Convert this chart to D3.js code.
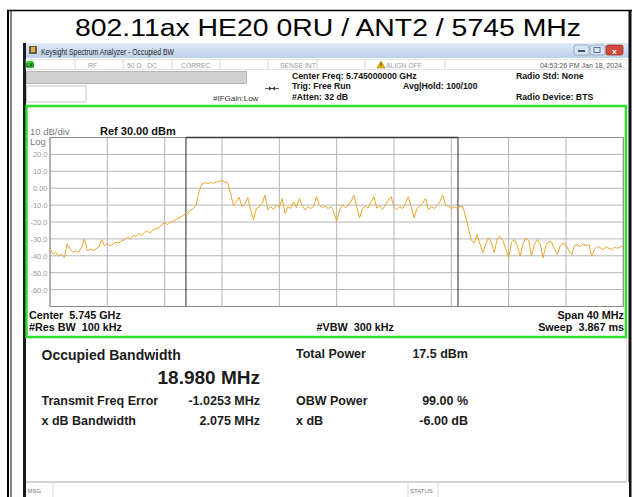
<!DOCTYPE html>
<html>
<head>
<meta charset="utf-8">
<script src="https://cdn.jsdelivr.net/npm/d3@7"></script>
<style>
  body { margin: 0; background: #fff; }
  svg { display: block; font-family: "Liberation Sans", Arial, sans-serif; }
</style>
</head>
<body>
<div id="wrapper"></div>
<script>
/* global d3 */

// chart values
const chartTitle = "802.11ax HE20 0RU / ANT2 / 5745 MHz"
const centerMHz = 5745
const spanMHz = 40
const refLevel = 30
const dbPerDiv = 10
const yTickValues = [20, 10, 0, -10, -20, -30, -40, -50, -60]
const yTickLabels = ["20.0", "10.0", "0.00", "-10.0", "-20.0", "-30.0", "-40.0", "-50.0", "-60.0"]
const obwMHz = 18.980
const freqErrorMHz = -1.0253

// trace, 201 sweep points across the span (dBm)
const traceDbm = [
  -35, -39, -38, -40, -39, -41, -33, -36, -38, -37,
  -38, -35, -30, -37, -36, -37, -36, -35, -30.5, -34,
  -33, -34, -33, -32, -32.5, -31, -30.5, -29, -30, -28,
  -28.5, -27, -28, -26, -25.5, -26.5, -24.5, -24, -23.5, -21.5,
  -20.6, -21.5, -20, -19.6, -18.5, -17.5, -16.7, -15.5, -15, -13,
  -12, -10, -2,
  2.5, 3.2, 2.8, 3.3, 3.0, 3.6, 3.9, 4.6, 3.8, 3.2,
  -3, -10.5,
  -8, -5.5, -11, -9, -5.5, -13, -18.5, -12, -11, -9,
  -4, -12.8, -11, -12.5, -9.8, -11.5, -6, -15, -11, -12,
  -8, -11.5, -6, -10.5, -12.8, -11, -12, -10.8, -5, -9.8,
  -11.5, -10.5, -12, -11, -14, -19.6, -13, -9.8, -11.5, -10.5,
  -8, -4, -11, -17.6, -12, -10.5, -11.8, -8, -5, -11.8,
  -10.5, -12.5, -10, -7, -5, -11, -12.8, -11, -12, -9,
  -5, -11, -17.6, -12, -10.5, -9, -6, -12.8, -11, -12,
  -10.5, -8, -4, -10, -10.8, -12, -11, -11.8, -11, -10.8,
  -17, -24, -31, -32.4, -27.5, -33, -38.2, -33, -29.4, -32,
  -38.2, -30, -28.5, -31, -36, -41.2, -32, -30.4, -34, -40.2,
  -33, -29.4, -31, -40.2, -33, -30.4, -33, -41.2, -34, -31.4,
  -32, -36, -39.2, -34, -32.4, -33.5, -37, -39.2, -34, -33.4,
  -34.5, -33, -34, -33.4, -40.2, -36, -34.5, -35.3, -36.5, -34.5,
  -35.5, -36.3, -35, -35.5, -34.6, -34.4
]

const statusCells = ["RF", "50 \u03a9   DC", "CORREC", "SENSE:INT", "ALIGN OFF"]
const headerLeft = ["Center Freq: 5.745000000 GHz", "Trig: Free Run", "#Atten: 32 dB"]
const headerRight = ["Radio Std: None", "", "Radio Device: BTS"]
const footerLeft = ["Center  5.745 GHz", "#Res BW  100 kHz"]
const footerRight = ["Span 40 MHz", "Sweep  3.867 ms"]
const summaryRows = [
  ["Transmit Freq Error", "-1.0253 MHz", "OBW Power", "99.00 %"],
  ["x dB Bandwidth", "2.075 MHz", "x dB", "-6.00 dB"]
]

// dimensions
const width = 632
const height = 497
const plot = { left: 50, right: 623.3, top: 137.5, bottom: 306.5 }

const svg = d3.select("#wrapper")
  .append("svg")
    .attr("width", width)
    .attr("height", height)

const defs = svg.append("defs")
const tbGrad = defs.append("linearGradient").attr("id", "tb").attr("x1", 0).attr("x2", 0).attr("y1", 0).attr("y2", 1)
tbGrad.append("stop").attr("offset", "0%").attr("stop-color", "#dfe9f6")
tbGrad.append("stop").attr("offset", "100%").attr("stop-color", "#bcd0ea")
defs.append("clipPath").attr("id", "plotClip")
  .append("rect")
    .attr("x", plot.left).attr("y", plot.top)
    .attr("width", plot.right - plot.left).attr("height", plot.bottom - plot.top)

// outer frame + title
svg.append("line").attr("x1", 7).attr("x2", 632).attr("y1", 10.5).attr("y2", 10.5)
  .attr("stroke", "#000").attr("stroke-width", 1.5)
svg.append("line").attr("x1", 8).attr("x2", 8).attr("y1", 10).attr("y2", height)
  .attr("stroke", "#000").attr("stroke-width", 2)
svg.append("line").attr("x1", 11).attr("x2", 11).attr("y1", 10).attr("y2", height)
  .attr("stroke", "#000").attr("stroke-width", 1)

svg.append("text")
    .attr("x", 328).attr("y", 36)
    .attr("text-anchor", "middle")
    .attr("font-size", 23)
    .attr("textLength", 506)
    .attr("lengthAdjust", "spacingAndGlyphs")
    .attr("fill", "#000")
    .text(chartTitle)

// window
svg.append("rect").attr("x", 23).attr("y", 43).attr("width", 608).attr("height", 460)
  .attr("fill", "#fff")
svg.append("rect").attr("x", 23).attr("y", 43).attr("width", 608).attr("height", 15)
  .attr("fill", "url(#tb)")
svg.append("line").attr("x1", 24.5).attr("x2", 24.5).attr("y1", 43).attr("y2", height)
  .attr("stroke", "#1a1a1a").attr("stroke-width", 3)
svg.append("line").attr("x1", 630).attr("x2", 630).attr("y1", 10).attr("y2", height)
  .attr("stroke", "#111").attr("stroke-width", 3)

// title bar
svg.append("rect").attr("x", 29).attr("y", 46).attr("width", 8).attr("height", 8).attr("fill", "#6b5a3a")
svg.append("rect").attr("x", 31).attr("y", 47).attr("width", 4).attr("height", 5).attr("fill", "#d9b04a")
svg.append("text")
    .attr("x", 41).attr("y", 54.5)
    .attr("font-size", 8.3)
    .attr("textLength", 133)
    .attr("lengthAdjust", "spacingAndGlyphs")
    .attr("fill", "#1e1e1e")
    .text("Keysight Spectrum Analyzer - Occupied BW")

const buttons = [
  { x: 574, w: 15, fill: "#d6e3f3", stroke: "#7c97bb" },
  { x: 590, w: 15, fill: "#d6e3f3", stroke: "#7c97bb" },
  { x: 606, w: 17, fill: "#d1493c", stroke: "#8e2a22" }
]
svg.selectAll(".wbtn").data(buttons).join("rect")
    .attr("class", "wbtn")
    .attr("x", d => d.x).attr("y", 45).attr("width", d => d.w).attr("height", 10).attr("rx", 2)
    .attr("fill", d => d.fill).attr("stroke", d => d.stroke).attr("stroke-width", 0.7)
svg.append("rect").attr("x", 578).attr("y", 50).attr("width", 7).attr("height", 2).attr("fill", "#3a5377")
svg.append("rect").attr("x", 594).attr("y", 47.5).attr("width", 6).attr("height", 5).attr("fill", "none").attr("stroke", "#3a5377").attr("stroke-width", 0.8)
svg.append("text").attr("x", 614.5).attr("y", 53.5).attr("text-anchor", "middle").attr("font-size", 8)
    .attr("font-weight", "bold").attr("fill", "#fff").text("x")

// status row
svg.append("rect").attr("x", 26).attr("y", 59.5).attr("width", 600).attr("height", 10)
  .attr("fill", "#fff").attr("stroke", "#d0d0d0").attr("stroke-width", 0.6)
svg.append("rect").attr("x", 26.5).attr("y", 61).attr("width", 7).attr("height", 7).attr("fill", "#27d327")
svg.append("text").attr("x", 30).attr("y", 67).attr("text-anchor", "middle").attr("font-size", 5)
    .attr("font-weight", "bold").attr("fill", "#103010").text("LXI")
const dividerX = [75, 123, 172, 220, 268, 317, 365, 445]
svg.selectAll(".sdiv").data(dividerX).join("line")
    .attr("class", "sdiv")
    .attr("x1", d => d).attr("x2", d => d).attr("y1", 59.5).attr("y2", 69.5)
    .attr("stroke", "#c8c8c8").attr("stroke-width", 0.8)
const statusX = [88, 127, 181, 280, 386]
svg.selectAll(".stxt").data(statusCells).join("text")
    .attr("class", "stxt")
    .attr("x", (d, i) => statusX[i]).attr("y", 67.5)
    .attr("font-size", 6.8).attr("fill", "#9a9a9a")
    .attr("xml:space", "preserve")
    .text(d => d)
svg.append("path").attr("d", "M377,68 L381,61 L385,68 Z").attr("fill", "#f2c200").attr("stroke", "#7a6100").attr("stroke-width", 0.5)
svg.append("text").attr("x", 381).attr("y", 67.4).attr("text-anchor", "middle").attr("font-size", 5.5)
    .attr("font-weight", "bold").attr("fill", "#000").text("!")
svg.append("text").attr("x", 622).attr("y", 67.5).attr("text-anchor", "end")
    .attr("font-size", 7).attr("fill", "#555")
    .text("04:53:26 PM Jan 18, 2024")

// header area
svg.append("rect").attr("x", 26.5).attr("y", 71.5).attr("width", 220).attr("height", 12)
  .attr("fill", "#d0d0d0").attr("stroke", "#a8a8a8").attr("stroke-width", 0.8)
svg.append("rect").attr("x", 26.5).attr("y", 86).attr("width", 59.5).attr("height", 16)
  .attr("fill", "#fff").attr("stroke", "#b8b8b8").attr("stroke-width", 0.8)
svg.append("text").attr("x", 213).attr("y", 100.5).attr("font-size", 8).attr("fill", "#333").text("#IFGain:Low")
svg.append("line").attr("x1", 265).attr("x2", 279).attr("y1", 88.5).attr("y2", 88.5).attr("stroke", "#333").attr("stroke-width", 0.8)
svg.append("path").attr("d", "M269,86.5 L272,88.5 L269,90.5 Z M275,86.5 L272,88.5 L275,90.5 Z").attr("fill", "#333")

svg.selectAll(".hl").data(headerLeft).join("text")
    .attr("class", "hl")
    .attr("x", 292).attr("y", (d, i) => 79 + i * 10.3)
    .attr("font-size", 8.7).attr("font-weight", "bold").attr("fill", "#111")
    .text(d => d)
svg.append("text").attr("x", 403).attr("y", 89.3).attr("font-size", 8.7).attr("font-weight", "bold")
    .attr("fill", "#111").text("Avg|Hold: 100/100")
svg.selectAll(".hr").data(headerRight).join("text")
    .attr("class", "hr")
    .attr("x", 516).attr("y", (d, i) => 79 + i * 10.3)
    .attr("font-size", 8.7).attr("font-weight", "bold").attr("fill", "#111")
    .text(d => d)

// green frame
svg.append("rect").attr("x", 26.5).attr("y", 106).attr("width", 599.5).attr("height", 231)
  .attr("fill", "#fff").attr("stroke", "#2ee02e").attr("stroke-width", 2.5)

// scales
const startMHz = centerMHz - spanMHz / 2
const stopMHz = centerMHz + spanMHz / 2
const freqAccessor = (d, i) => startMHz + i * spanMHz / (traceDbm.length - 1)

const xScale = d3.scaleLinear()
  .domain([startMHz, stopMHz])
  .range([plot.left, plot.right])
const yScale = d3.scaleLinear()
  .domain([refLevel - 10 * dbPerDiv, refLevel])
  .range([plot.bottom, plot.top])

// grid
const bounds = svg.append("g")
bounds.append("rect")
    .attr("x", plot.left).attr("y", plot.top)
    .attr("width", plot.right - plot.left).attr("height", plot.bottom - plot.top)
    .attr("fill", "#fff")
bounds.selectAll(".vgrid").data(d3.range(startMHz, stopMHz + 0.1, spanMHz / 10)).join("line")
    .attr("class", "vgrid")
    .attr("x1", d => xScale(d)).attr("x2", d => xScale(d))
    .attr("y1", plot.top).attr("y2", plot.bottom)
    .attr("stroke", "#b4b4b4").attr("stroke-width", 1)
bounds.selectAll(".hgrid").data(d3.range(refLevel - 10 * dbPerDiv, refLevel + 1, dbPerDiv)).join("line")
    .attr("class", "hgrid")
    .attr("x1", plot.left).attr("x2", plot.right)
    .attr("y1", d => yScale(d)).attr("y2", d => yScale(d))
    .attr("stroke", "#b4b4b4").attr("stroke-width", 1)
bounds.append("rect")
    .attr("x", plot.left).attr("y", plot.top)
    .attr("width", plot.right - plot.left).attr("height", plot.bottom - plot.top)
    .attr("fill", "none").attr("stroke", "#888").attr("stroke-width", 1)

// y axis labels
const yAxis = d3.axisLeft(yScale)
  .tickValues(yTickValues)
  .tickFormat((d, i) => yTickLabels[i])
  .tickSize(0)
  .tickPadding(2.5)
const yAxisGroup = bounds.append("g")
    .attr("transform", `translate(${plot.left}, 0)`)
    .call(yAxis)
yAxisGroup.select(".domain").remove()
yAxisGroup.selectAll("text")
    .attr("font-family", "Liberation Sans, Arial, sans-serif")
    .attr("font-size", 7.5)
    .attr("fill", "#9a9a9a")

// OBW markers
const obwLeft = centerMHz + freqErrorMHz - obwMHz / 2
const obwRight = centerMHz + freqErrorMHz + obwMHz / 2
bounds.selectAll(".obw").data([obwLeft, obwRight]).join("line")
    .attr("class", "obw")
    .attr("x1", d => xScale(d)).attr("x2", d => xScale(d))
    .attr("y1", plot.top).attr("y2", plot.bottom)
    .attr("stroke", "#2a2a2a").attr("stroke-width", 1)
bounds.append("line")
    .attr("x1", xScale(obwLeft)).attr("x2", xScale(obwRight))
    .attr("y1", plot.top).attr("y2", plot.top)
    .attr("stroke", "#3a3a3a").attr("stroke-width", 1.6)

// trace
const lineGenerator = d3.line()
  .x((d, i) => xScale(freqAccessor(d, i)))
  .y(d => yScale(d))
bounds.append("path")
    .datum(traceDbm)
    .attr("clip-path", "url(#plotClip)")
    .attr("d", lineGenerator)
    .attr("fill", "none")
    .attr("stroke", "#eba52b")
    .attr("stroke-width", 1)
    .attr("stroke-linejoin", "round")

// plot labels
svg.append("text").attr("x", 30).attr("y", 135).attr("font-size", 9.5).attr("fill", "#7a7a7a").text("10 dB/div")
svg.append("text").attr("x", 30).attr("y", 144.5).attr("font-size", 9.5).attr("fill", "#7a7a7a").text("Log")
svg.append("text").attr("x", 100).attr("y", 135).attr("font-size", 11).attr("font-weight", "bold")
    .attr("fill", "#111").text(`Ref ${refLevel.toFixed(2)} dBm`)

svg.selectAll(".fl").data(footerLeft).join("text")
    .attr("class", "fl")
    .attr("x", 29).attr("y", (d, i) => 318.5 + i * 12.2)
    .attr("font-size", 10.8).attr("font-weight", "bold").attr("fill", "#111")
    .attr("xml:space", "preserve")
    .text(d => d)
svg.selectAll(".fr").data(footerRight).join("text")
    .attr("class", "fr")
    .attr("x", 624).attr("y", (d, i) => 318.5 + i * 12.2)
    .attr("text-anchor", "end")
    .attr("font-size", 10.8).attr("font-weight", "bold").attr("fill", "#111")
    .attr("xml:space", "preserve")
    .text(d => d)
svg.append("text").attr("x", 316.5).attr("y", 330.7).attr("font-size", 10.8).attr("font-weight", "bold")
    .attr("fill", "#111").attr("xml:space", "preserve").text("#VBW  300 kHz")

// measurement panel
svg.append("text").attr("x", 41.5).attr("y", 360).attr("font-size", 14).attr("font-weight", "bold")
    .attr("fill", "#1c1c1c").text("Occupied Bandwidth")
svg.append("text").attr("x", 260).attr("y", 383.5).attr("text-anchor", "end").attr("font-size", 19)
    .attr("font-weight", "bold").attr("fill", "#1c1c1c").text(`${obwMHz.toFixed(3)} MHz`)
svg.append("text").attr("x", 296).attr("y", 358).attr("font-size", 12.5).attr("font-weight", "bold")
    .attr("fill", "#1c1c1c").text("Total Power")
svg.append("text").attr("x", 468).attr("y", 358).attr("text-anchor", "end").attr("font-size", 12.5)
    .attr("font-weight", "bold").attr("fill", "#1c1c1c").text("17.5 dBm")

const rowY = [405, 424.5]
const colX = [41.5, 260, 296, 468]
const colAnchor = ["start", "end", "start", "end"]
summaryRows.forEach((row, r) => {
  svg.selectAll(`.row${r}`).data(row).join("text")
      .attr("class", `row${r}`)
      .attr("x", (d, i) => colX[i]).attr("y", rowY[r])
      .attr("text-anchor", (d, i) => colAnchor[i])
      .attr("font-size", 12.5).attr("font-weight", "bold").attr("fill", "#1c1c1c")
      .text(d => d)
})

// bottom status bar
svg.append("rect").attr("x", 26).attr("y", 482).attr("width", 603).attr("height", 16).attr("fill", "#fff")
svg.append("line").attr("x1", 26).attr("x2", 627).attr("y1", 482).attr("y2", 482)
  .attr("stroke", "#c4c4c4").attr("stroke-width", 1.5)
svg.append("line").attr("x1", 626.5).attr("x2", 626.5).attr("y1", 338).attr("y2", 482)
  .attr("stroke", "#d0d0d0").attr("stroke-width", 0.8)
svg.selectAll(".bdiv").data([53, 408, 438]).join("line")
    .attr("class", "bdiv")
    .attr("x1", d => d).attr("x2", d => d).attr("y1", 483).attr("y2", height)
    .attr("stroke", "#d0d0d0").attr("stroke-width", 0.8)
svg.append("text").attr("x", 27.5).attr("y", 493).attr("font-size", 6).attr("fill", "#777").text("MSG")
svg.append("text").attr("x", 410).attr("y", 493).attr("font-size", 6).attr("fill", "#777").text("STATUS")
</script>
</body>
</html>
